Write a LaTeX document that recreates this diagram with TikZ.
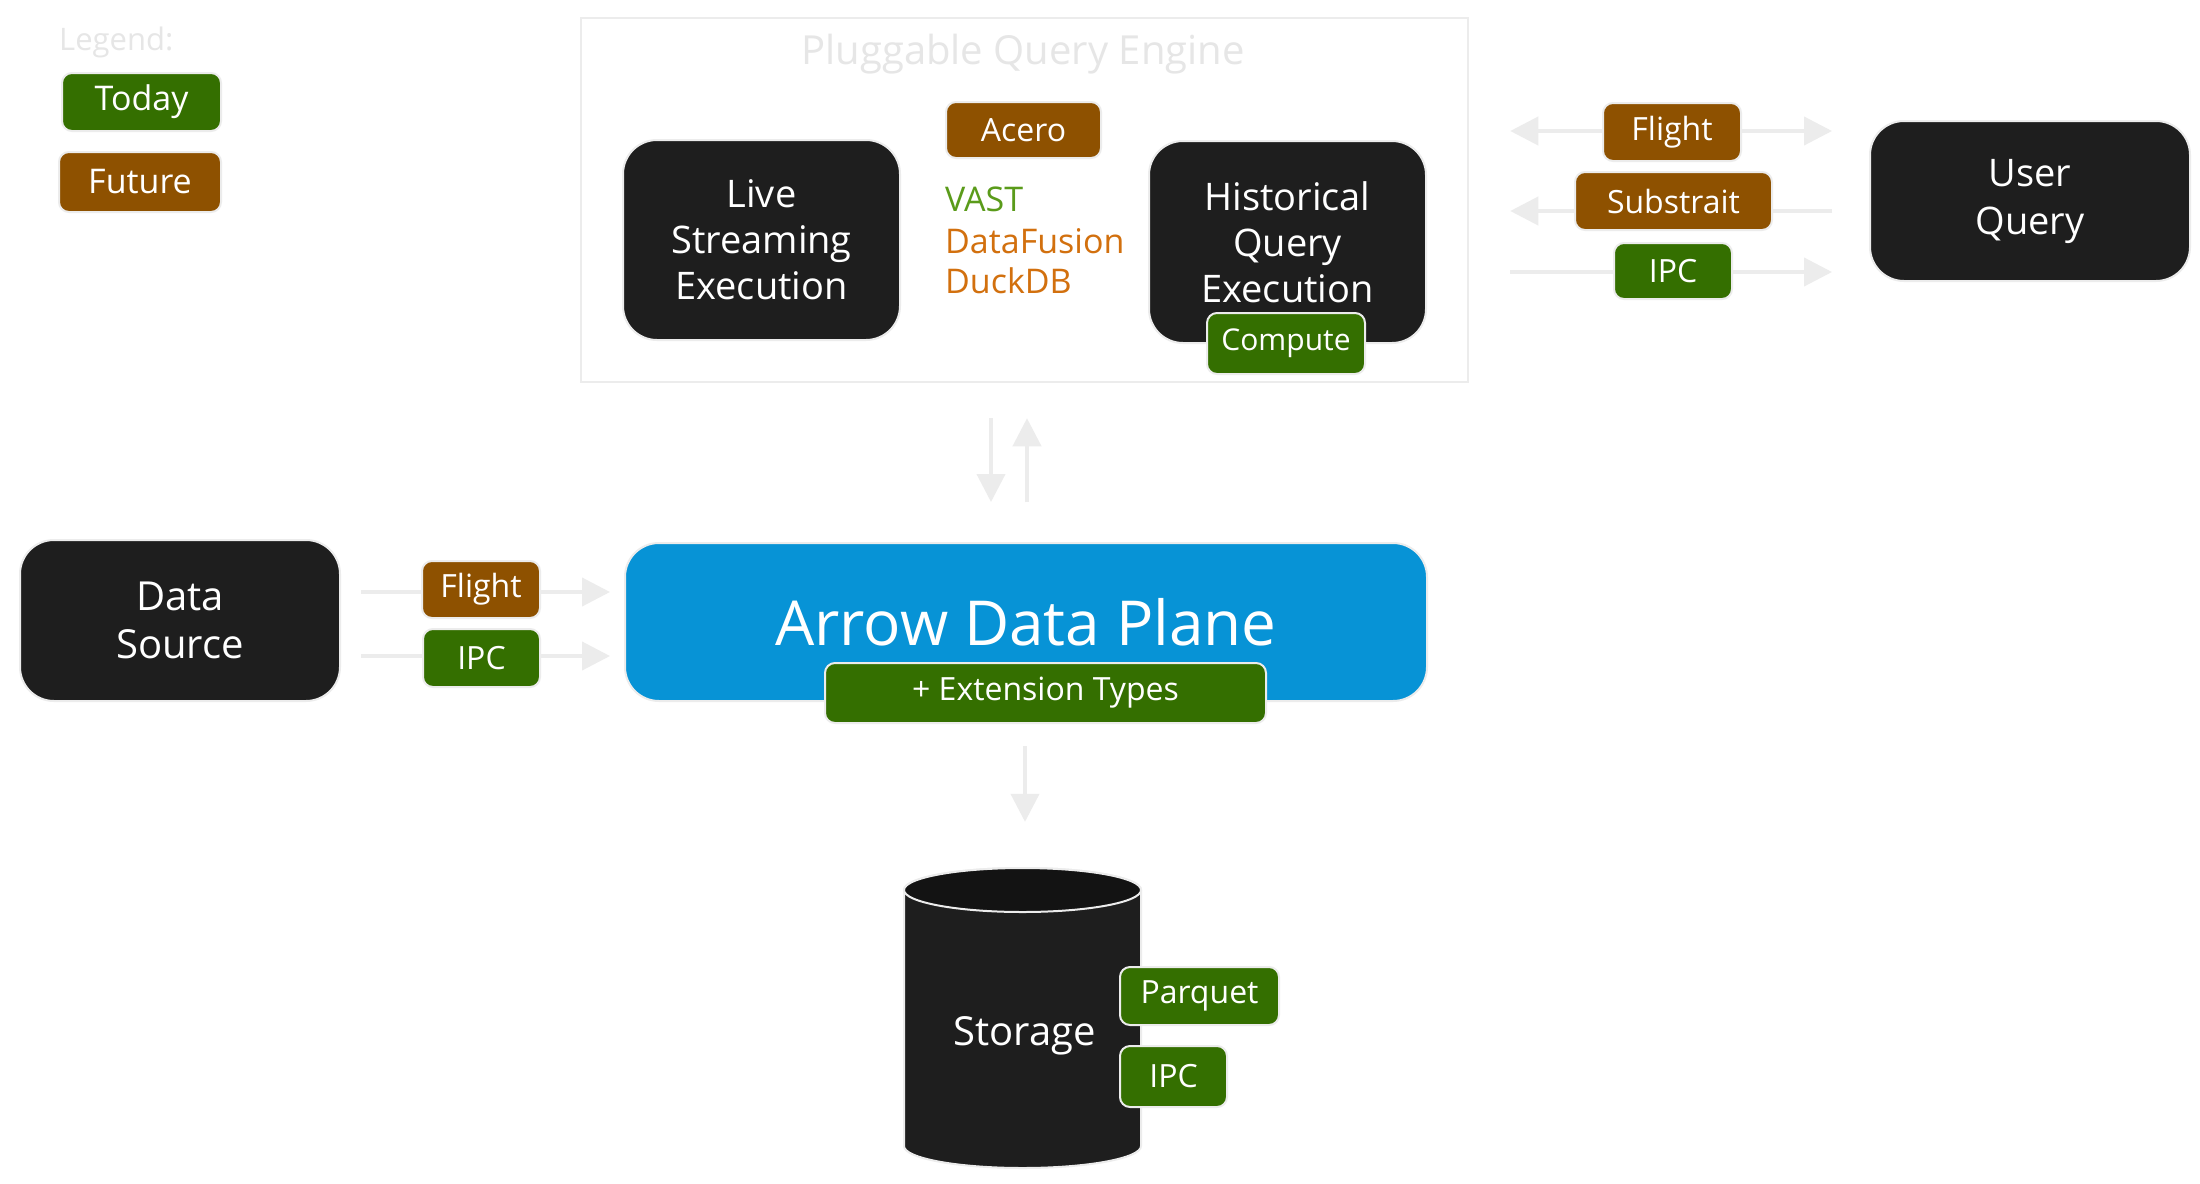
\documentclass[tikz,border=0pt]{standalone}
\usepackage{fontspec}
\setmainfont{Open Sans}
\usetikzlibrary{arrows.meta,shapes.geometric,calc}
\definecolor{tagG}{HTML}{346F00}
\definecolor{tagB}{HTML}{8E5100}
\definecolor{ink}{HTML}{1E1E1E}
\definecolor{inkend}{HTML}{131313}
\definecolor{plane}{HTML}{0793D6}
\definecolor{soft}{HTML}{ECECEC}
\definecolor{faint}{HTML}{E6E6E6}
\definecolor{vastG}{HTML}{5A9B1A}
\definecolor{dfO}{HTML}{D2700E}
\tikzset{
  darkbox/.style={fill=ink, draw=soft, line width=2pt, rounded corners=34pt, text=white, align=center, inner sep=0pt},
  tagbox/.style={fill=#1, draw=soft, line width=2pt, rounded corners=10pt, text=white, inner sep=0pt, font=\fontsize{32}{38}\selectfont},
  arr/.style={draw=soft, line width=4pt, -{Triangle[length=28pt,width=28pt]}},
  arrtwo/.style={draw=soft, line width=4pt, {Triangle[length=28pt,width=28pt]}-{Triangle[length=28pt,width=28pt]}},
}
\begin{document}
\begin{tikzpicture}[x=1pt,y=-1pt]
\useasboundingbox (0,0) rectangle (2200,1183);
\fill[white] (0,0) rectangle (2200,1183);

% legend
\node[anchor=base west, text=faint, font=\fontsize{31}{36}\selectfont, inner sep=0] (leg) at (59,50) {Legend:};

% engine frame
\node[draw=soft, line width=2.5pt, minimum width=887pt, minimum height=364pt, inner sep=0pt] (eng) at (1024.5,200) {};
\node[anchor=base, text=faint, font=\fontsize{40}{48}\selectfont, inner sep=0] (engt) at (1023,64) {Pluggable Query Engine};

% dark boxes
\node[darkbox, minimum width=277pt, minimum height=200pt, font=\fontsize{38}{46}\selectfont] (live) at (761.5,240) {Live\\Streaming\\Execution};
\node[darkbox, minimum width=277pt, minimum height=202pt, font=\fontsize{38}{46}\selectfont] (hist) at (1287.5,242) {Historical\\Query\\Execution};
\node[darkbox, minimum width=320pt, minimum height=161pt, font=\fontsize{40}{48}\selectfont] (ds) at (180,620.5) {Data\\Source};
\node[darkbox, minimum width=320pt, minimum height=160pt, font=\fontsize{38}{48}\selectfont] (uq) at (2030,201) {User\\Query};
\node[darkbox, fill=plane, minimum width=802pt, minimum height=158pt, font=\fontsize{62}{72}\selectfont] (adp) at (1026,622) {Arrow Data Plane};

% storage cylinder (anchor node + drawn shape)
\node[minimum width=237pt, minimum height=302pt, inner sep=0pt] (stor) at (1022.5,1017) {};
\path[fill=ink, draw=soft, line width=2pt]
  (904,890) -- (904,1146) arc[start angle=180, end angle=0, x radius=118.5, y radius=22]
  -- (1141,890) arc[start angle=0, end angle=-180, x radius=118.5, y radius=22] -- cycle;
\path[fill=inkend, draw=soft, line width=2pt] (1022.5,890) ellipse[x radius=118.5, y radius=22];
\node[text=white, font=\fontsize{40}{48}\selectfont] (stort) at ($(stor.center)+(2,19)$) {Storage};

% engines list
\node[anchor=base west, text=vastG, font=\fontsize{34}{40}\selectfont, inner sep=0] (vast) at (945,211) {VAST};
\node[anchor=base west, text=dfO, font=\fontsize{34}{40}\selectfont, inner sep=0] (df) at (945,253) {DataFusion};
\node[anchor=base west, text=dfO, font=\fontsize{34}{40}\selectfont, inner sep=0] (duck) at (945,293) {DuckDB};

% helper coordinates for connector heights / columns
\coordinate (h1) at (0,592);
\coordinate (h2) at (0,656);
\coordinate (r1) at (0,131);
\coordinate (r2) at (0,211);
\coordinate (r3) at (0,272);
\coordinate (v1) at (991,0);
\coordinate (v2) at (1027,0);
\coordinate (v3) at (1025,0);

% connectors
\draw[arr, shorten <=20pt, shorten >=14pt] (ds.east |- h1) -- (adp.west |- h1);
\draw[arr, shorten <=20pt, shorten >=14pt] (ds.east |- h2) -- (adp.west |- h2);
\draw[arrtwo, shorten <=41pt, shorten >=37pt] (eng.east |- r1) -- (uq.west |- r1);
\draw[arr, shorten <=37pt, shorten >=41pt] (uq.west |- r2) -- (eng.east |- r2);
\draw[arr, shorten <=41pt, shorten >=37pt] (eng.east |- r3) -- (uq.west |- r3);
\draw[arr, shorten <=35pt, shorten >=40pt] (eng.south -| v1) -- (adp.north -| v1);
\draw[arr, shorten <=40pt, shorten >=35pt] (adp.north -| v2) -- (eng.south -| v2);

% tags
\node[tagbox=tagG, minimum width=159pt, minimum height=58pt, font=\fontsize{34}{40}\selectfont] (today) at (141.5,102) {Today};
\node[tagbox=tagB, minimum width=162pt, minimum height=60pt, font=\fontsize{34}{40}\selectfont] (future) at (140,182) {Future};
\node[tagbox=tagB, minimum width=155pt, minimum height=56pt] (acero) at (1023.5,130) {Acero};
\node[tagbox=tagG, minimum width=158pt, minimum height=61pt, font=\fontsize{30}{36}\selectfont] (compute) at (1286,343.5) {Compute};
\node[tagbox=tagG, minimum width=441pt, minimum height=60pt, font=\fontsize{32}{38}\selectfont] (ext) at (1045.5,693) {+ Extension Types};
\node[tagbox=tagB, minimum width=118pt, minimum height=57pt] (fll) at (481,589.5) {Flight};
\node[tagbox=tagG, minimum width=117pt, minimum height=58pt] (ipcl) at (481.5,658) {IPC};
\node[tagbox=tagB, minimum width=138pt, minimum height=58pt] (flr) at (1672,132) {Flight};
\node[tagbox=tagB, minimum width=197pt, minimum height=58pt] (sub) at (1673.5,201) {Substrait};
\node[tagbox=tagG, minimum width=118pt, minimum height=56pt] (ipcr) at (1673,271) {IPC};
\node[tagbox=tagG, minimum width=159pt, minimum height=58pt] (parq) at (1199.5,996) {Parquet};
\node[tagbox=tagG, minimum width=107pt, minimum height=61pt] (ipcs) at (1173.5,1076.5) {IPC};

\draw[arr, shorten <=22pt, shorten >=44pt] (ext.south -| v3) -- (stor.north -| v3);
\end{tikzpicture}
\end{document}
